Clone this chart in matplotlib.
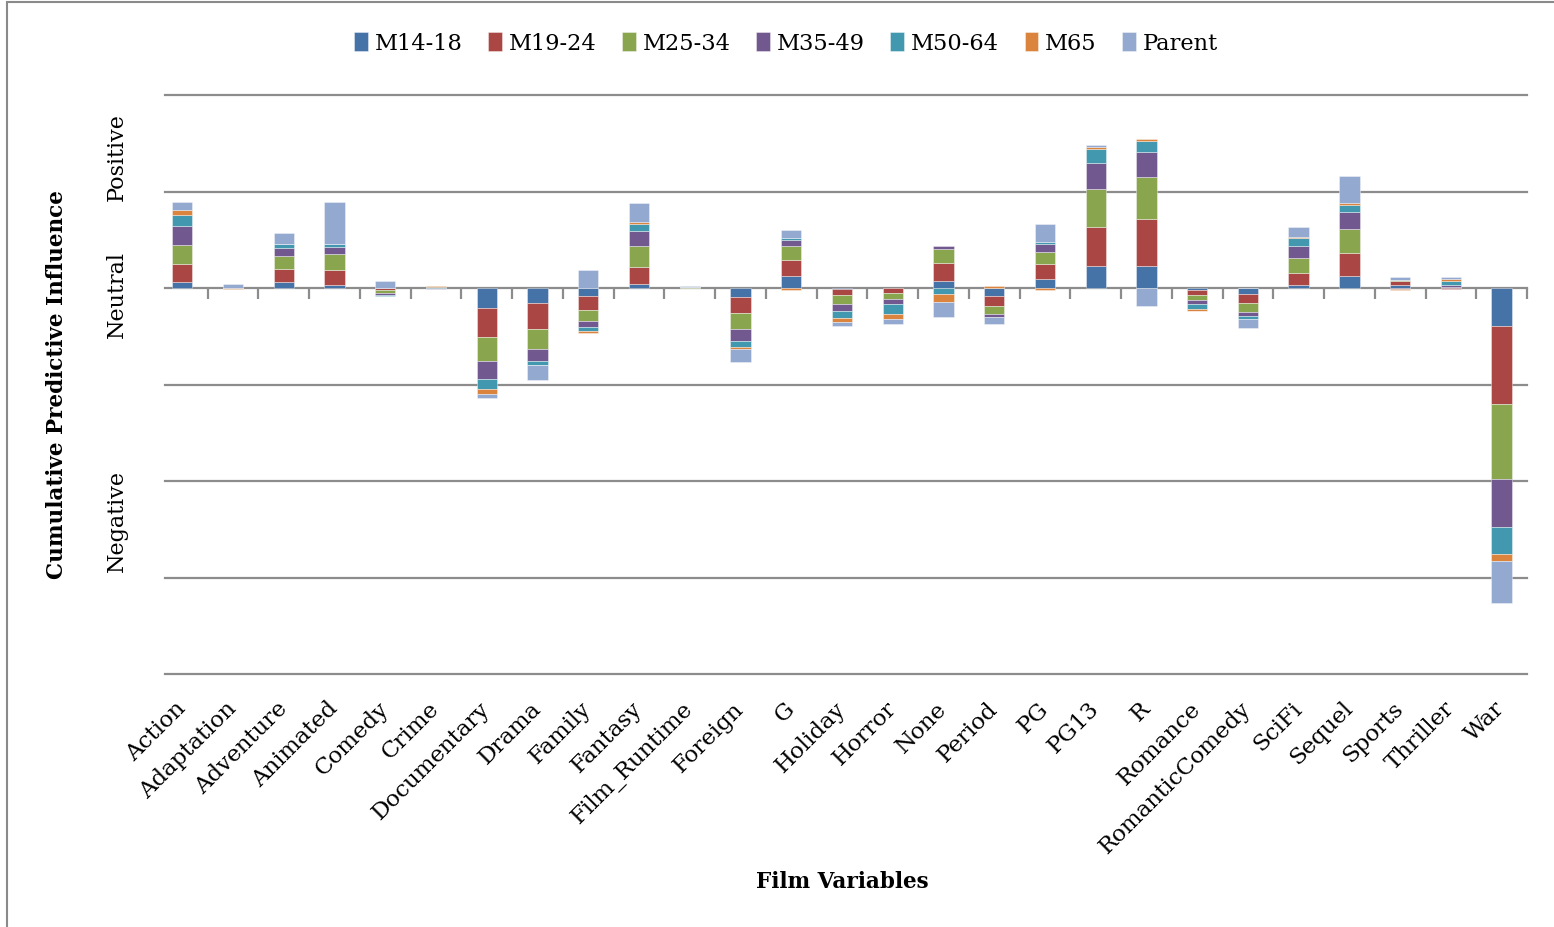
import numpy as np
import matplotlib
matplotlib.use("Agg")
import matplotlib.pyplot as plt
from matplotlib.patches import Rectangle
from matplotlib.transforms import blended_transform_factory

plt.rcParams["font.family"] = ["DejaVu Serif"]

categories = ["Action", "Adaptation", "Adventure", "Animated", "Comedy", "Crime",
              "Documentary", "Drama", "Family", "Fantasy", "Film_Runtime", "Foreign",
              "G", "Holiday", "Horror", "None", "Period", "PG", "PG13", "R", "Romance",
              "RomanticComedy", "SciFi", "Sequel", "Sports", "Thriller", "War"]

series_names = ["M14-18", "M19-24", "M25-34", "M35-49", "M50-64", "M65", "Parent"]

m14_18 = [0.06, 0.0, 0.06, 0.03, -0.005, -0.005, -0.21, -0.16, -0.085, 0.04, 0.0, -0.095,
          0.12, -0.015, -0.005, 0.075, -0.08, 0.095, 0.225, 0.225, -0.025, -0.06, 0.035,
          0.12, 0.028, 0.01, -0.395]
m19_24 = [0.185, 0.0, 0.14, 0.16, -0.02, 0.0, -0.295, -0.26, -0.14, 0.18, 0.0, -0.16,
          0.175, -0.06, -0.045, 0.185, -0.11, 0.15, 0.41, 0.485, -0.045, -0.095, 0.12,
          0.24, 0.04, -0.01, -0.805]
m25_34 = [0.205, 0.0, 0.13, 0.16, -0.03, 0.0, -0.25, -0.215, -0.12, 0.22, 0.015, -0.17,
          0.14, -0.09, -0.06, 0.145, -0.08, 0.13, 0.395, 0.44, -0.05, -0.09, 0.16,
          0.255, 0.017, 0.005, -0.78]
m35_49 = [0.19, 0.0, 0.085, 0.08, -0.02, -0.005, -0.185, -0.12, -0.06, 0.155, 0.0, -0.12,
          0.06, -0.075, -0.06, 0.03, -0.03, 0.08, 0.27, 0.26, -0.05, -0.045, 0.125,
          0.17, -0.01, 0.02, -0.5]
m50_64 = [0.115, 0.0, 0.045, 0.03, -0.005, 0.01, -0.105, -0.04, -0.04, 0.07, 0.0, -0.07,
          0.02, -0.07, -0.095, -0.065, 0.0, 0.025, 0.14, 0.115, -0.045, -0.03, 0.075,
          0.075, 0.0, 0.04, -0.275]
m65 = [0.05, -0.01, 0.0, 0.0, 0.0, 0.01, -0.05, -0.005, -0.02, 0.017, 0.0, -0.017,
       -0.02, -0.045, -0.06, -0.085, 0.025, -0.02, 0.025, 0.015, -0.02, 0.0, 0.015,
       0.02, -0.01, 0.015, -0.075]
parent = [0.09, 0.04, 0.11, 0.43, 0.07, -0.005, -0.045, -0.15, 0.19, 0.195, 0.01, -0.14,
          0.09, -0.04, -0.045, -0.155, -0.075, 0.185, 0.017, -0.19, -0.005, -0.095, 0.105,
          0.285, 0.028, 0.02, -0.43]

series_values = [m14_18, m19_24, m25_34, m35_49, m50_64, m65, parent]
colors = ["#4572A7", "#AA4643", "#89A54E", "#71588F", "#4198AF", "#DB843D", "#93A9CF"]

axis_ticks = ["Positive", "Neutral", "Negative"]
axis_tick_pos = [1.37, -0.06, -2.4]

W, H = 1554, 928
fig = plt.figure(figsize=(W / 100, H / 100), dpi=100)
ax = fig.add_axes([165 / W, 1 - 675 / H, 1362 / W, 579 / H])

x = np.arange(len(categories))
pos_base = np.zeros(len(categories))
neg_base = np.zeros(len(categories))
for name, vals, col in zip(series_names, series_values, colors):
    v = np.asarray(vals, dtype=float)
    bottoms = np.where(v >= 0, pos_base, neg_base)
    ax.bar(x, v, width=0.4, bottom=bottoms, color=col, label=name,
           edgecolor=(1, 1, 1, 0.45), linewidth=0.6, zorder=3)
    pos_base += np.where(v > 0, v, 0)
    neg_base += np.where(v < 0, v, 0)

ax.set_xlim(-0.34, 26.5)
ax.set_ylim(-4, 2)
ax.set_yticks(np.arange(-4, 3, 1))
ax.yaxis.grid(True, color="#8c8c8c", linewidth=1.6, zorder=0)
for gl in ax.get_ygridlines():
    gl.set_clip_on(False)
ax.tick_params(axis="y", length=0, labelleft=False)
for s in ax.spines.values():
    s.set_visible(False)

ax.set_xticks(x)
ax.set_xticklabels(categories, rotation=45, ha="right", va="center",
                   rotation_mode="anchor", fontsize=16.5)
ax.tick_params(axis="x", length=0, pad=22)

# category axis drawn through zero with boundary tick marks
sec = ax.secondary_xaxis(4 / 6)
sec.set_xticks(np.arange(0.5, 26.6, 1.0))
sec.tick_params(axis="x", direction="out", length=8, width=1.6, color="#8c8c8c",
                labelbottom=False, labeltop=False, bottom=True, top=False)
sec.spines["bottom"].set_color("#8c8c8c")
sec.spines["bottom"].set_linewidth(1.8)
sec.spines["top"].set_visible(False)
sec.xaxis.set_ticks_position("bottom")
sec.set_xticklabels([])

trans = blended_transform_factory(fig.transFigure, ax.transData)
for lbl, yv in zip(axis_ticks, axis_tick_pos):
    fig.text(117 / W, yv, lbl, transform=trans, rotation=90, ha="center",
             va="center", fontsize=16)

fig.text(57 / W, 1 - 385 / H, "Cumulative Predictive Influence", rotation=90,
         ha="center", va="center", fontsize=15.5, fontweight="bold")
fig.text(842 / W, 1 - 882 / H, "Film Variables", ha="center", va="center",
         fontsize=15.5, fontweight="bold")

fig.legend(loc="center", bbox_to_anchor=(786 / W, 1 - 44 / H), ncol=7, frameon=False,
           fontsize=16.2, handlelength=0.6, handleheight=0.9, handletextpad=0.3,
           columnspacing=1.15)

fig.patches.append(Rectangle((7 / W, -0.1), 1.2, 1.1 - 3 / H, transform=fig.transFigure,
                             fill=False, edgecolor="#8a8a8a", linewidth=1.5))

fig.savefig("out.png", dpi=100)
